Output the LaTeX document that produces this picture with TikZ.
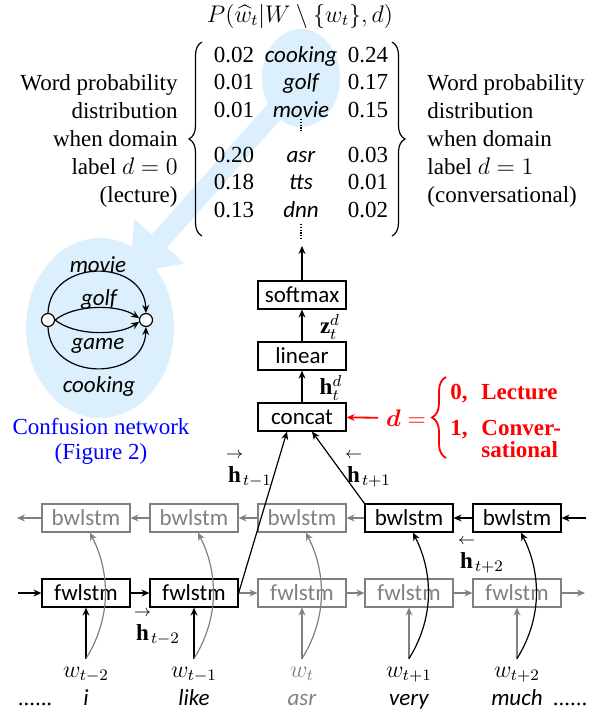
\documentclass[tikz,border=0pt]{standalone}
\usepackage{amsmath}
\usepackage{fontspec}
\setmainfont{Liberation Serif}
\setsansfont{Carlito}
\usetikzlibrary{shapes.geometric, arrows.meta, decorations.pathreplacing}
\definecolor{cnblue}{RGB}{220,239,252}
\definecolor{offgray}{RGB}{128,128,128}
\definecolor{domred}{RGB}{255,0,0}
\newcommand{\fwh}{\overset{\raisebox{1.5pt}{$\scriptstyle\rightarrow$}}{\mathbf{h}}}
\newcommand{\bwh}{\overset{\raisebox{1.5pt}{$\scriptstyle\leftarrow$}}{\mathbf{h}}}
\tikzstyle{layer} = [rectangle, minimum width=44pt, minimum height=14pt, inner sep=0pt, text centered, draw=black, line width=0.6pt, font=\sffamily]
\tikzstyle{word} = [font=\sffamily\itshape]
\tikzstyle{cnnode} = [circle, draw=black, fill=white, minimum size=6.5pt, inner sep=0pt, line width=0.6pt]
\tikzstyle{blob} = [ellipse, fill=cnblue, inner sep=0pt]
\tikzstyle{arrow} = [line width=0.6pt, -{Stealth[length=4pt, width=3.5pt]}]
\tikzstyle{brace} = [decorate, decoration={brace, amplitude=6.5pt}, line width=0.6pt]
\tikzstyle{domlab} = [text=domred, font=\bfseries, inner sep=0pt, anchor=base west]
\tikzstyle{vdots} = [line width=0.6pt, dash pattern=on 0.6pt off 0.8pt]

\begin{document}
\fontsize{11.5}{13.5}\selectfont
\begin{tikzpicture}[x=0.5pt, y=-0.5pt, node distance=30.5pt]
\useasboundingbox (0,0) rectangle (602,713);

% highlights
\node (hl) [blob, minimum width=39pt, minimum height=49pt] at (301,78) {};
\node (cn) [blob, minimum width=74pt, minimum height=90pt] at (100,328) {};
\coordinate (cntip) at (130,274);
\draw [cnblue, line width=10pt, -{Triangle[length=22pt, width=32pt]}, shorten <=-6pt] (hl.south west) -- (cntip);

% word distribution
\node (title) [inner sep=0pt] at (300,16) {$P(\widehat{w}_t|W\setminus\{w_t\},d)$};
\foreach \y/\pzero/\cw/\pone [count=\i] in {62/0.02/cooking/0.24, 89/0.01/golf/0.17, 117/0.01/movie/0.15, 162/0.20/asr/0.03, 189/0.18/tts/0.01, 217/0.13/dnn/0.02}
{
  \node (pz\i) [anchor=base] at (234,\y) {\pzero};
  \node (cw\i) [word, anchor=base] at (301,\y) {\cw};
  \node (po\i) [anchor=base] at (368,\y) {\pone};
}
\draw [vdots] (301,119) -- (301,133);
\draw [vdots] (301,224) -- (301,240);
\draw [brace] (202,236) -- (202,42);
\draw [brace] (392,42) -- (392,236);
\node (lecture) [anchor=east, inner sep=0pt, align=right, font=\fontsize{11.5}{14}\selectfont] at (178,141) {Word probability\\distribution\\when domain\\label $d=0$\\(lecture)};
\node (conv) [anchor=west, inner sep=0pt, align=left, font=\fontsize{11.5}{14}\selectfont] at (427,141) {Word probability\\distribution\\when domain\\label $d=1$\\(conversational)};

% confusion network
\node (cnl) [cnnode] at (48,320) {};
\node (cnr) [cnnode] at (146,320) {};
\draw [arrow] (cnl.north) .. controls (50,258) and (144,258) .. (cnr.north);
\draw [arrow] (cnl.east) .. controls (75,304) and (118,304) .. (cnr.165);
\draw [arrow] (cnl.east) .. controls (75,336) and (118,336) .. (cnr.195);
\draw [arrow] (cnl.south) .. controls (50,382) and (144,382) .. (cnr.south);
\node (movie) [word] at (98,265) {movie};
\node (golf) [word] at (99,299) {golf};
\node (game) [word] at (98,346) {game};
\node (cooking) [word] at (99,386) {cooking};
\node (cncap) [text=blue, align=center, font=\fontsize{11.5}{12.5}\selectfont] at (101,441) {Confusion network\\(Figure 2)};

% output layers
\node (cat) [layer] at (302,417) {concat};
\node (lin) [layer, above of=cat] {linear};
\node (smax) [layer, above of=lin] {softmax};
\coordinate (dist) at (302,246);
\draw [arrow] (smax) -- (dist);
\draw [arrow] (lin) -- (smax);
\draw [arrow] (cat) -- (lin);
\node (zlab) [inner sep=0pt] at (330,327) {$\mathbf{z}_t^d$};
\node (hdlab) [inner sep=0pt] at (331,388) {$\mathbf{h}_t^d$};

% domain label
\node (deq) [text=domred] at (406,418) {$\boldsymbol{d}=$};
\draw [arrow, color=domred, line width=0.9pt] (deq) -- (cat);
\draw [brace, color=domred, line width=0.9pt, decoration={amplitude=7pt}] (446,458) -- (446,377);
\node (d0) [domlab] at (450,399) {0,};
\node (d0t) [domlab] at (481,399) {Lecture};
\node (d1) [domlab] at (450,435) {1,};
\node (d1t) [domlab] at (481,435) {Conver-};
\node (d1u) [domlab] at (481,457) {sational};

% bidirectional lstm
\foreach \x/\fc/\bc/\wc/\sub/\tok [count=\i] in {86/black/offgray/black/{t-2}/i, 194/black/offgray/black/{t-1}/like, 302/offgray/offgray/offgray/t/asr, 409/offgray/black/black/{t+1}/very, 517/offgray/black/black/{t+2}/much}
{
  \node (bw\i) [layer, draw=\bc, text=\bc] at (\x,518) {bwlstm};
  \node (fw\i) [layer, draw=\fc, text=\fc] at (\x,593) {fwlstm};
  \node (w\i) [anchor=base, text=\wc] at (\x,677) {$w_{\sub}$};
  \node (tok\i) [word, anchor=base, text=\wc] at (\x,705) {\tok};
  \draw [arrow, color=\fc] (w\i.north) -- (fw\i.south);
  \draw [arrow, color=\bc] (w\i.north) .. controls +(28,-45) and +(18,35) .. (bw\i.-75);
}
\coordinate (fwin) at (18,593);
\coordinate (fwout) at (585,593);
\coordinate (bwin) at (586,518);
\coordinate (bwout) at (17,518);
\draw [arrow] (fwin) -- (fw1);
\draw [arrow] (fw1) -- (fw2);
\draw [arrow] (bwin) -- (bw5);
\draw [arrow] (bw5) -- (bw4);
\foreach \a/\b in {fw2/fw3, fw3/fw4, fw4/fw5, fw5/fwout, bw4/bw3, bw3/bw2, bw2/bw1, bw1/bwout}
  \draw [arrow, color=offgray] (\a) -- (\b);
\draw [arrow] (fw2.east) -- ([xshift=-7.5pt]cat.south);
\draw [arrow] (bw4.north west) -- ([xshift=5pt]cat.south);
\node (hfm1) [anchor=base] at (249,482) {${\fwh}_{t-1}$};
\node (hbp1) [anchor=base] at (368,482) {${\bwh}_{t+1}$};
\node (hfm2) [anchor=base] at (157,640) {${\fwh}_{t-2}$};
\node (hbp2) [anchor=base] at (481,568) {${\bwh}_{t+2}$};
\node (ldots) [anchor=base] at (35,705) {......};
\node (rdots) [anchor=base] at (570,705) {......};

\end{tikzpicture}
\end{document}
